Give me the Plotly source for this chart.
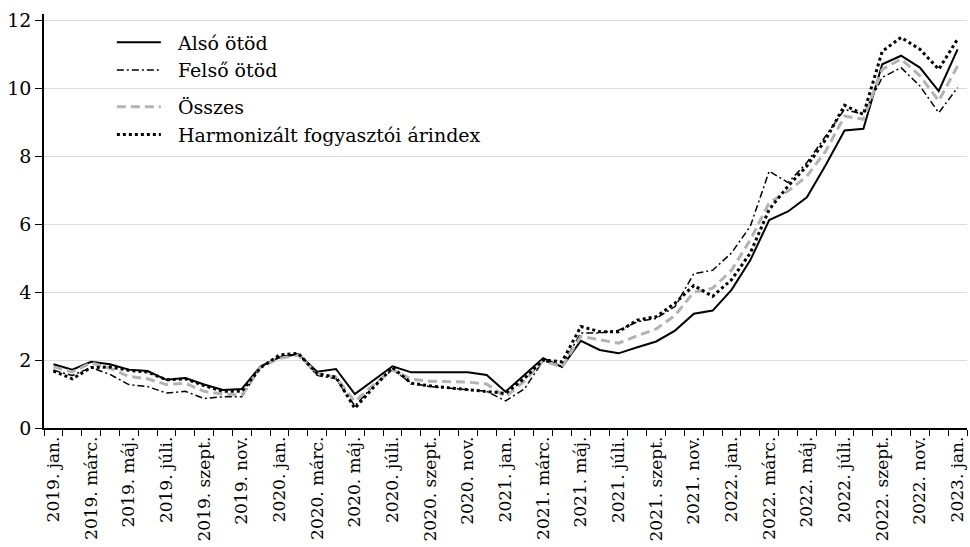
import plotly.graph_objects as go

month_abbr = ["jan.", "febr.", "márc.", "ápr.", "máj.", "jún.",
              "júli.", "aug.", "szept.", "okt.", "nov.", "dec."]
years = [2019, 2020, 2021, 2022, 2023]
months = [f"{y}. {m}" for y in years for m in month_abbr][:49]

also_otod = [1.88, 1.72, 1.95, 1.88, 1.72, 1.68, 1.42, 1.47, 1.28, 1.12, 1.15, 1.82,
             2.08, 2.18, 1.66, 1.74, 1.00, 1.42, 1.82, 1.64, 1.64, 1.64, 1.64, 1.56,
             1.07, 1.56, 2.06, 1.80, 2.57, 2.30, 2.20, 2.38, 2.55, 2.87, 3.37, 3.46,
             4.07, 4.95, 6.13, 6.38, 6.80, 7.75, 8.77, 8.82, 10.72, 10.97, 10.62, 9.93,
             11.16]
felso_otod = [1.70, 1.55, 1.78, 1.58, 1.28, 1.22, 1.03, 1.08, 0.87, 0.92, 0.92, 1.80,
              2.10, 2.18, 1.55, 1.45, 0.65, 1.25, 1.72, 1.32, 1.22, 1.17, 1.13, 1.08,
              0.80, 1.15, 1.98, 1.83, 2.80, 2.80, 2.88, 3.13, 3.23, 3.58, 4.55, 4.65,
              5.16, 5.95, 7.57, 7.23, 7.82, 8.60, 9.39, 9.24, 10.33, 10.62, 10.08, 9.29,
              10.03]
osszes = [1.80, 1.65, 1.92, 1.76, 1.52, 1.45, 1.28, 1.32, 1.08, 1.00, 0.97, 1.80,
          2.05, 2.15, 1.60, 1.50, 0.78, 1.28, 1.72, 1.44, 1.38, 1.37, 1.35, 1.30,
          0.92, 1.38, 1.98, 1.80, 2.70, 2.60, 2.50, 2.72, 2.92, 3.32, 4.00, 4.12,
          4.65, 5.55, 6.64, 6.98, 7.42, 8.16, 9.19, 9.10, 10.57, 10.87, 10.38, 9.64,
          10.67]
hicp = [1.68, 1.45, 1.78, 1.80, 1.70, 1.65, 1.42, 1.45, 1.25, 1.08, 1.08, 1.78,
        2.15, 2.20, 1.60, 1.50, 0.58, 1.20, 1.78, 1.32, 1.24, 1.18, 1.12, 1.07,
        1.02, 1.46, 2.00, 1.95, 2.99, 2.84, 2.84, 3.18, 3.28, 3.68, 4.20, 3.88,
        4.37, 5.16, 6.44, 7.13, 7.72, 8.50, 9.51, 9.24, 11.10, 11.51, 11.16, 10.57,
        11.46]

x = list(range(len(months)))
FONT = "DejaVu Serif"
PAD = "\u00a0\u00a0"

fig = go.Figure()
fig.add_trace(go.Scatter(x=x, y=also_otod, name=PAD + "Alsó ötöd", mode="lines",
                         legendgroup="g1",
                         line=dict(color="black", width=2)))
fig.add_trace(go.Scatter(x=x, y=felso_otod, name=PAD + "Felső ötöd", mode="lines",
                         legendgroup="g1",
                         line=dict(color="black", width=1.5, dash="7px,3px,2px,3px")))
fig.add_trace(go.Scatter(x=x, y=osszes, name=PAD + "Összes", mode="lines",
                         legendgroup="g2",
                         line=dict(color="#b3b3b3", width=3, dash="9px,5px")))
fig.add_trace(go.Scatter(x=x, y=hicp, name=PAD + "Harmonizált fogyasztói árindex",
                         mode="lines", legendgroup="g2",
                         line=dict(color="black", width=3, dash="3px,3px")))

fig.update_layout(
    width=970, height=547,
    margin=dict(l=44, r=3, t=14, b=119, autoexpand=False),
    paper_bgcolor="white", plot_bgcolor="white",
    font=dict(family=FONT, size=18, color="black"),
    showlegend=True,
    legend=dict(x=0.0735, y=0.977, xanchor="left", yanchor="top",
                bgcolor="rgba(0,0,0,0)", font=dict(family=FONT, size=19),
                traceorder="grouped", tracegroupgap=9, itemwidth=44),
    xaxis=dict(range=[-0.5, 48.5], tickmode="array", tickvals=x[::2],
               ticktext=months[::2], tickangle=-90, ticks="",
               showgrid=False, zeroline=False, showline=True,
               linecolor="black", linewidth=1.5,
               tickfont=dict(family=FONT, size=17),
               minor=dict(ticks="outside", ticklen=6, tickcolor="black",
                          tickwidth=1, tick0=-0.5, dtick=1, showgrid=False)),
    yaxis=dict(range=[0, 12.2], tickmode="linear", tick0=0, dtick=2,
               ticks="outside", ticklen=7, tickcolor="black",
               showgrid=True, gridcolor="#dcdcdc", gridwidth=1,
               zeroline=False, showline=True, linecolor="black", linewidth=1.5,
               tickfont=dict(family=FONT, size=19)),
)

fig.write_html("out.html", config={"displayModeBar": False},
               post_script="document.body.style.margin='0';document.body.style.padding='0';")
